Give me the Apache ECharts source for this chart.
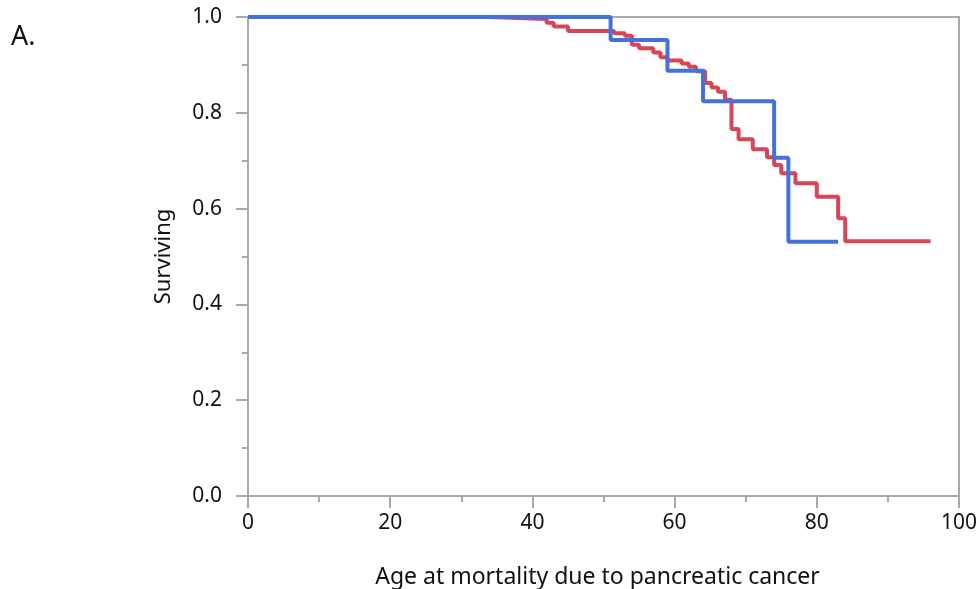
<!DOCTYPE html>
<html>
<head>
<meta charset="utf-8">
<script src="https://cdn.jsdelivr.net/npm/echarts@6/dist/echarts.min.js"></script>
<style>html,body{margin:0;padding:0;background:#fff;}#c{width:976px;height:589px;}</style>
</head>
<body>
<div id="c"></div>
<script>
// Red group: [age, surviving]
const redAges = [0, 34, 42, 43, 45, 51.5, 53, 54, 55, 57, 58, 59, 61, 62, 63, 64.3, 65.2, 66.1, 67.1, 68, 69, 71, 73, 74, 75, 77, 80, 83, 84, 96];
const redSurv = [1.0, 0.996, 0.988, 0.980, 0.971, 0.966, 0.961, 0.942, 0.935, 0.926, 0.916, 0.909, 0.903, 0.896, 0.887, 0.862, 0.853, 0.844, 0.827, 0.766, 0.745, 0.724, 0.707, 0.691, 0.674, 0.653, 0.625, 0.580, 0.532, 0.532];
// Blue group
const blueAges = [0, 51, 59, 64, 74, 76, 83];
const blueSurv = [1.0, 0.952, 0.888, 0.824, 0.706, 0.531, 0.531];

const xTicks = [0, 20, 40, 60, 80, 100];
const yTicks = [0.0, 0.2, 0.4, 0.6, 0.8, 1.0];

const FONT = 'Noto Sans';
const chart = echarts.init(document.getElementById('c'), null, {renderer: 'canvas'});
const zip = (a, b) => a.map((v, i) => [v, b[i]]);
chart.setOption({
  animation: false,
  backgroundColor: '#fff',
  textStyle: {fontFamily: FONT},
  grid: {left: 248, right: 17, top: 17, bottom: 93, containLabel: false, outerBoundsMode: 'none',
         show: true, borderColor: '#aaaaaa', borderWidth: 2},
  graphic: [{type: 'text', left: 11, top: 24, style: {text: 'A.', font: '27px "' + FONT + '"', fill: '#111'}}],
  xAxis: {
    type: 'value', min: xTicks[0], max: xTicks[xTicks.length - 1], interval: 20,
    name: 'Age at mortality due to pancreatic cancer', nameLocation: 'middle', nameGap: 70,
    nameTextStyle: {fontSize: 23, color: '#111', fontFamily: FONT, padding: [0, 12, 0, 0]},
    axisLine: {show: true, lineStyle: {color: '#aaaaaa', width: 2}},
    axisTick: {show: true, length: 12, lineStyle: {color: '#aaaaaa', width: 2}},
    minorTick: {show: true, splitNumber: 2, length: 6, lineStyle: {color: '#aaaaaa', width: 2}},
    splitLine: {show: false},
    axisLabel: {fontSize: 21, color: '#111', margin: 17, fontFamily: FONT}
  },
  yAxis: {
    type: 'value', min: yTicks[0], max: yTicks[yTicks.length - 1], interval: 0.2,
    name: 'Surviving', nameLocation: 'middle', nameGap: 73,
    nameTextStyle: {fontSize: 22, color: '#111', fontFamily: FONT},
    axisLine: {show: true, lineStyle: {color: '#aaaaaa', width: 2}},
    axisTick: {show: true, length: 12, lineStyle: {color: '#aaaaaa', width: 2}},
    minorTick: {show: true, splitNumber: 2, length: 6, lineStyle: {color: '#aaaaaa', width: 2}},
    splitLine: {show: false},
    axisLabel: {fontSize: 21, color: '#111', margin: 26, fontFamily: FONT, formatter: v => v.toFixed(1)}
  },
  series: [
    {type: 'line', step: 'end', data: zip(redAges, redSurv), showSymbol: false, symbol: 'none',
     lineStyle: {color: '#d84557', width: 4}, itemStyle: {color: '#d84557'}},
    {type: 'line', step: 'end', data: zip(blueAges, blueSurv), showSymbol: false, symbol: 'none',
     lineStyle: {color: '#4472dc', width: 4}, itemStyle: {color: '#4472dc'}}
  ]
});
</script>
</body>
</html>
